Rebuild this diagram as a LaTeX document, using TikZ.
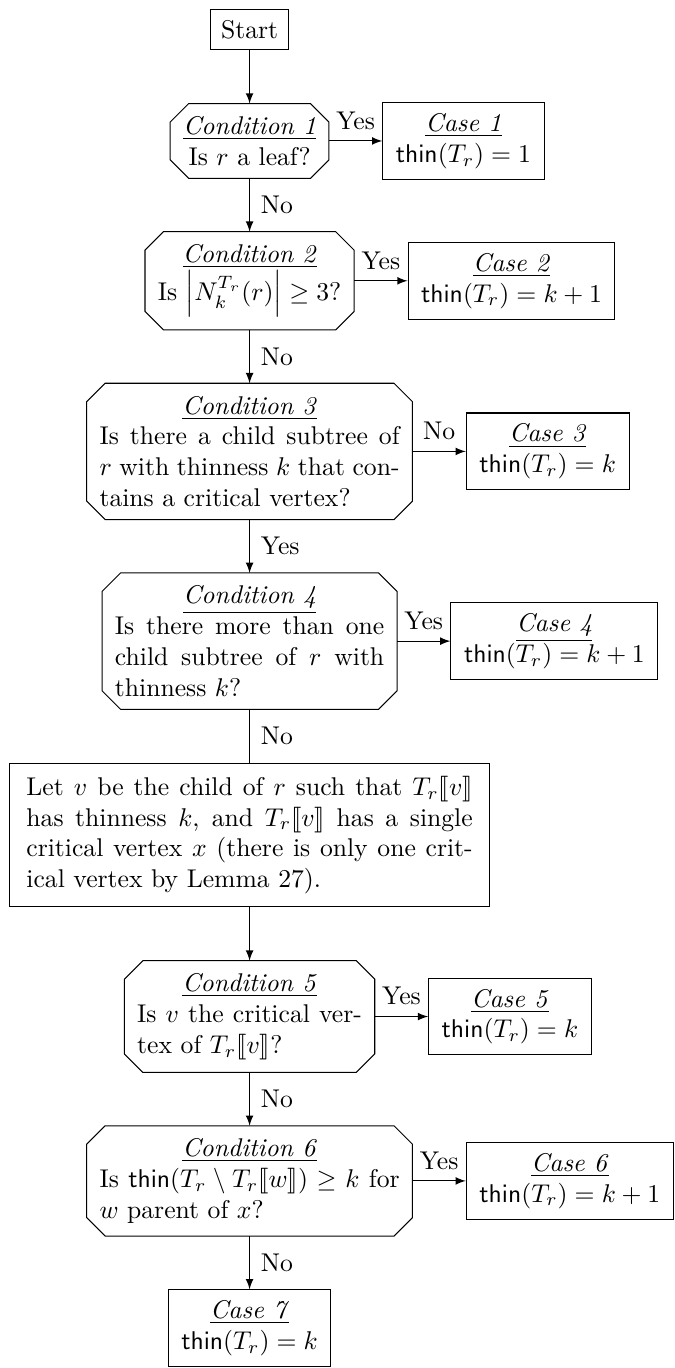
\documentclass[tikz,border=0pt]{standalone}
\usepackage{amsmath,amssymb,stmaryrd}
\usetikzlibrary{positioning,arrows}

\begin{document}
\begin{tikzpicture}[node distance=20.8pt,
                    every node/.style={inner sep=4.2pt},
                    cond/.style={rectangle, inner sep=5pt, outer sep=0pt},
                    condtext/.style={cond, align=justify},
                    case/.style={draw, rectangle, align=center, inner xsep=5.1pt},
                    arr/.style={-latex}]
                    \node[draw] (start) {Start};

                    \node[cond, align=center, below=of start] (c1) {\underline{\emph{Condition 1}}\\ Is $r$ a leaf?};
                    \node[case, right=of c1] (k1) {\underline{\emph{Case 1}}\\ $\mathsf{thin}(T_r) = 1$};

                    \node[cond, align=center, below=of c1] (c2) {\underline{\emph{Condition 2}}\\ Is $\left|N_k^{T_r}(r)\right| \geq 3$?};
                    \node[case, right=of c2] (k2) {\underline{\emph{Case 2}}\\ $\mathsf{thin}(T_r) = k+1$};

                    \node[condtext, text width=117pt, below=of c2] (c3) {{\centering\underline{\emph{Condition 3}}\par}Is there a child subtree of $r$ with thinness $k$ that contains a critical vertex?};
                    \node[case, right=of c3] (k3) {\underline{\emph{Case 3}}\\ $\mathsf{thin}(T_r) = k$};

                    \node[condtext, text width=105pt, below=of c3] (c4) {{\centering\underline{\emph{Condition 4}}\par}Is there more than one child subtree of $r$ with thinness $k$?};
                    \node[case, right=of c4] (k4) {\underline{\emph{Case 4}}\\ $\mathsf{thin}(T_r) = k+1$};

                    \node[draw, align=justify, text width=174pt, inner xsep=6.6pt, inner ysep=5pt, below=of c4] (let) {Let $v$ be the child of $r$ such that $T_r\llbracket v\rrbracket$\linebreak has thinness $k$, and $T_r\llbracket v\rrbracket$ has a single\linebreak critical vertex $x$ (there is only one crit-\linebreak ical vertex by Lemma 27).};

                    \node[condtext, text width=87.6pt, below=of let] (c5) {{\centering\underline{\emph{Condition 5}}\par}Is $v$ the critical vertex of $T_r\llbracket v\rrbracket$?};
                    \node[case, right=of c5] (k5) {\underline{\emph{Case 5}}\\ $\mathsf{thin}(T_r) = k$};

                    \node[condtext, text width=117pt, below=of c5] (c6) {{\centering\underline{\emph{Condition 6}}\par}Is $\mathsf{thin}(T_r \setminus T_r\llbracket w\rrbracket) \geq k$ for $w$ parent of $x$?};
                    \node[case, right=of c6] (k6) {\underline{\emph{Case 6}}\\ $\mathsf{thin}(T_r) = k+1$};

                    \node[case, below=of c6] (k7) {\underline{\emph{Case 7}}\\ $\mathsf{thin}(T_r) = k$};

                    % chamfered outlines of the conditions
                    \foreach \n in {c1,c2,c3,c4,c5,c6}
                        \draw ([xshift=7.2pt]\n.north west) -- ([xshift=-7.2pt]\n.north east) -- ([yshift=-7.2pt]\n.north east)
                              -- ([yshift=7.2pt]\n.south east) -- ([xshift=-7.2pt]\n.south east) -- ([xshift=7.2pt]\n.south west)
                              -- ([yshift=7.2pt]\n.south west) -- ([yshift=-7.2pt]\n.north west) -- cycle;

                    \draw[arr] (start) -- (c1);
                    \draw[arr] (c1) -- node[above] {Yes} (k1);
                    \draw[arr] (c1) -- node[right] {No} (c2);
                    \draw[arr] (c2) -- node[above] {Yes} (k2);
                    \draw[arr] (c2) -- node[right] {No} (c3);
                    \draw[arr] (c3) -- node[above] {No} (k3);
                    \draw[arr] (c3) -- node[right] {Yes} (c4);
                    \draw[arr] (c4) -- node[above] {Yes} (k4);
                    \draw (c4) -- node[right] {No} (let);
                    \draw[arr] (let) -- (c5);
                    \draw[arr] (c5) -- node[above] {Yes} (k5);
                    \draw[arr] (c5) -- node[right] {No} (c6);
                    \draw[arr] (c6) -- node[above] {Yes} (k6);
                    \draw[arr] (c6) -- node[right] {No} (k7);

                    \coordinate (nw) at ([shift={(-3.5pt,3.5pt)}]let.west |- start.north);
                    \coordinate (se) at ([shift={(0.3pt,-0.3pt)}]k6.east |- k7.south);
                    \pgfresetboundingbox
                    \path[use as bounding box] (nw) rectangle (se);
                \end{tikzpicture}
\end{document}
